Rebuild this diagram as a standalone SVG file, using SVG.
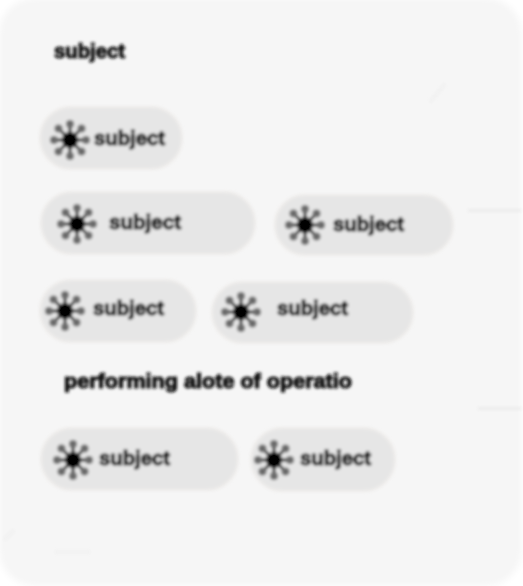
<svg xmlns="http://www.w3.org/2000/svg" width="523" height="586" viewBox="0 0 523 586">
<style>
.pill{fill:#e6e6e6;stroke:#eeecea;stroke-width:2}
.t{font-family:"Liberation Sans",Arial,sans-serif;font-weight:700;font-size:20px;fill:#111;stroke:#111;stroke-width:1;text-anchor:start}
.ray{stroke:#333;stroke-width:3;stroke-linecap:butt;fill:none}
.tip{fill:#6a6a6a}
.faint{stroke:#ececec;stroke-width:3;fill:none}
</style>
<defs>
<filter id="b" x="-5%" y="-5%" width="110%" height="110%"><feGaussianBlur stdDeviation="1.5"/></filter>
<filter id="b2" x="-5%" y="-5%" width="110%" height="110%"><feGaussianBlur stdDeviation="3"/></filter>
<g id="sun">
<circle r="8" fill="#000"/>
<path class="ray" d="M0-8V-13M0 8V13M-8 0H-13M8 0H13M-5-5L-9-9M5-5L9-9M-5 5L-9 9M5 5L9 9"/>
<g class="tip"><circle cy="-16" r="4"/><circle cy="16" r="4"/><circle cx="-16" r="4"/><circle cx="16" r="4"/><circle cx="-11.500" cy="-11.500" r="4"/><circle cx="11.500" cy="-11.500" r="4"/><circle cx="-11.500" cy="11.500" r="4"/><circle cx="11.500" cy="11.500" r="4"/></g>
</g>
</defs>
<rect width="523" height="586" fill="#fff"/>
<rect id="panel" x="-1" y="-2" width="523" height="588" rx="36" fill="#f6f6f6" filter="url(#b2)"/>
<g id="connectors" filter="url(#b)">
<path class="faint" d="M468 210.500H521M478 408.500H521"/>
<path class="faint" d="M430 102L445 84" stroke-width="5" opacity=".6"/>
<path class="faint" d="M4 540L14 530M55 552H90" opacity=".5"/>
</g>
<g filter="url(#b)">
<g id="label-1"><text class="t" x="54" y="58" textLength="71" lengthAdjust="spacingAndGlyphs">subject</text></g>
<g id="node-1"><rect class="pill" x="40" y="107" width="142" height="62" rx="31"/><use href="#sun" x="70" y="140"/><text class="t" x="94" y="145" textLength="71" lengthAdjust="spacingAndGlyphs">subject</text></g>
<g id="node-2"><rect class="pill" x="41" y="192" width="214" height="62" rx="31"/><use href="#sun" x="77" y="224"/><text class="t" x="109" y="229" textLength="72" lengthAdjust="spacingAndGlyphs">subject</text></g>
<g id="node-3"><rect class="pill" x="275" y="195" width="178" height="60" rx="30"/><use href="#sun" x="305" y="225"/><text class="t" x="333" y="231" textLength="71" lengthAdjust="spacingAndGlyphs">subject</text></g>
<g id="node-4"><rect class="pill" x="40" y="280" width="156" height="62" rx="31"/><use href="#sun" x="65" y="311"/><text class="t" x="93" y="315" textLength="71" lengthAdjust="spacingAndGlyphs">subject</text></g>
<g id="node-5"><rect class="pill" x="212" y="282" width="201" height="61" rx="30.500"/><use href="#sun" x="241" y="312"/><text class="t" x="277" y="315" textLength="71" lengthAdjust="spacingAndGlyphs">subject</text></g>
<g id="label-2"><text class="t" x="64" y="388" textLength="288" lengthAdjust="spacingAndGlyphs">performing alote of operatio</text></g>
<g id="node-6"><rect class="pill" x="41" y="428" width="197" height="62" rx="31"/><use href="#sun" x="73" y="460"/><text class="t" x="99" y="465" textLength="71" lengthAdjust="spacingAndGlyphs">subject</text></g>
<g id="node-7"><rect class="pill" x="251" y="428" width="144" height="63" rx="31.500"/><use href="#sun" x="274" y="460"/><text class="t" x="300" y="465" textLength="71" lengthAdjust="spacingAndGlyphs">subject</text></g>
</g>
</svg>
